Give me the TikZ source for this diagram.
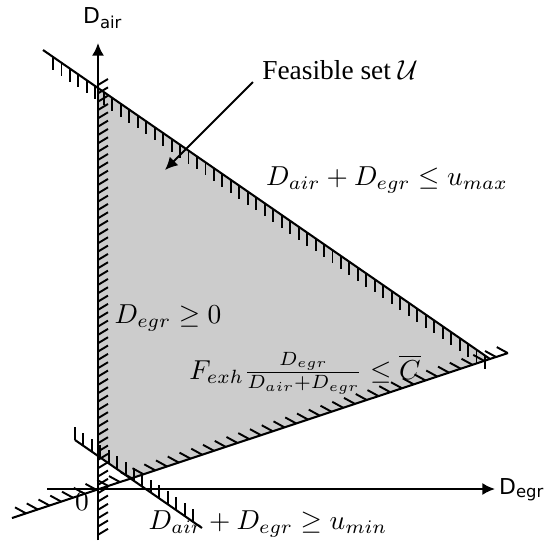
\documentclass[tikz,border=0pt]{standalone}
\usepackage{fontspec}
\setmainfont{Liberation Serif}
\newfontfamily\labfont{DejaVu Sans}
\usetikzlibrary{arrows.meta,calc}
\begin{document}
\begin{tikzpicture}[x=0.365pt,y=-0.365pt,
  bound/.style={line width=0.75pt},
  hatchmark/.style={line width=0.7pt},
  axisline/.style={line width=0.75pt,-{Latex[length=4.6pt,width=4.4pt]}},
  txt/.style={inner sep=0pt},
  axlabel/.style={inner sep=0pt,font=\labfont\fontsize{8}{9}\selectfont},
]
\useasboundingbox (0,0) rectangle (545,546);
% region corners
\coordinate (O) at (98,489);
\coordinate (V1) at (98,88);
\coordinate (V2) at (490,359);
\coordinate (V3) at (130.6,478.6);
\coordinate (V4) at (98,456);
\fill[gray!40] (V1) -- (V2) -- (V3) -- (V4) -- cycle;
% constraint lines
\coordinate (umaxA) at (43,50);
\coordinate (umaxB) at (490,359);
\coordinate (cA) at (12,518);
\coordinate (cB) at (508,353);
\coordinate (uminA) at (75,440);
\coordinate (uminB) at (202,528);
\coordinate (vA) at (98,540);
\coordinate (vB) at (98,80);
\coordinate (xA) at (47,489);
\coordinate (xB) at (495,489);
\coordinate (yB) at (98,43);
% axes
\draw[axisline] (xA) -- (xB);
\draw[axisline] (vA) -- (yB);
% bounding lines
\draw[bound] (umaxA) -- (umaxB);
\draw[bound] (cA) -- (cB);
\draw[bound] (uminA) -- (uminB);
\draw[bound] (vA) -- (vB);
% hatching: u_max (vertical ticks below)
\foreach \i in {0,...,51}{
  \pgfmathsetmacro\xx{53+\i*8.47}
  \pgfmathsetmacro\yy{50+0.6913*(\xx-43)}
  \draw[hatchmark] (\xx,\yy) -- ++(0,13);
}
% hatching: u_min (vertical ticks above)
\foreach \i in {0,...,14}{
  \pgfmathsetmacro\xx{75+\i*8.43}
  \pgfmathsetmacro\yy{440+0.6929*(\xx-75)}
  \draw[hatchmark] (\xx,\yy) -- ++(0,-13);
}
% hatching: D_egr >= 0 (slanted, right side)
\foreach \i in {0,...,54}{
  \pgfmathsetmacro\yy{85+\i*8.33}
  \draw[hatchmark] (98,\yy) -- ++(10,-6);
}
% hatching: C bar line (slanted, above)
\foreach \i in {0,...,41}{
  \pgfmathsetmacro\xx{26+\i*11.75}
  \pgfmathsetmacro\yy{518-0.3327*(\xx-12)}
  \draw[hatchmark] (\xx,\yy) -- ++(-11,-6);
}
% annotation arrow
\node[txt] (fs) at (340,70) {Feasible set $\mathcal{U}$};
\coordinate (fA) at (253,82);
\coordinate (fB) at (165,170);
\draw[line width=0.7pt,-{Latex[length=4.6pt,width=4.4pt]}] (fA) -- (fB);
% labels
\node[txt] (lmax) at (387,180) {$D_{air}+D_{egr}\leq u_{max}$};
\node[txt] (lzero) at (168,318) {$D_{egr}\geq 0$};
\node[txt] (lc) at (305,373) {$F_{exh}\frac{D_{egr}}{D_{air}+D_{egr}}\leq\overline{C}$};
\node[txt] (lmin) at (268,524) {$D_{air}+D_{egr}\geq u_{min}$};
\node[txt] (l0) at (82,502) {$0$};
\node[axlabel] (ly) at (103,18) {D\textsubscript{air}};
\node[axlabel] (lx) at (522,490) {D\textsubscript{egr}};
\end{tikzpicture}
\end{document}
